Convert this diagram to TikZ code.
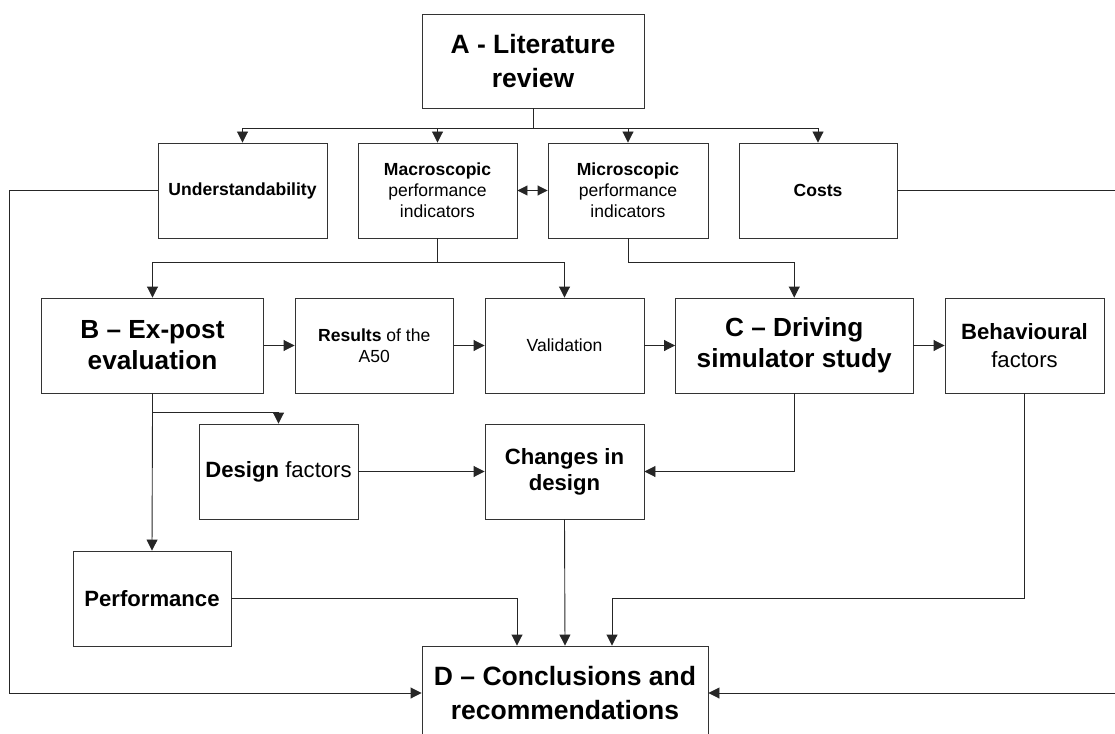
\documentclass[tikz,border=0pt]{standalone}
\usepackage{fontspec}
\setmainfont{Liberation Sans}
\usetikzlibrary{arrows.meta,calc}
\tikzset{
  box/.style={draw=black!80, line width=0.9bp, rectangle, align=center, inner sep=0pt,
              minimum height=95bp, text=black},
  fbig/.style={font=\fontsize{26.3}{31}\selectfont\bfseries},
  fmid/.style={font=\fontsize{22.2}{26}\selectfont},
  fsml/.style={font=\fontsize{17.6}{21.3}\selectfont},
  link/.style={draw=black!85, line width=0.9bp},
  arr/.style={link, -{Triangle[length=11bp,width=11bp]}},
  dblarr/.style={link, {Triangle[length=10bp,width=10bp]}-{Triangle[length=10bp,width=10bp]}}
}
\begin{document}
\begin{tikzpicture}[x=1bp,y=-1bp]
\useasboundingbox (0,0) rectangle (1115,734);
\clip (0,0) rectangle (1115,734);
% boxes
\node[box,minimum width=222bp,minimum height=94bp,font=\fontsize{26.6}{35}\selectfont\bfseries] (A) at (533,61) {A - Literature\\review};
\node[box,fsml,minimum width=169bp] (und) at (242.5,190.5) {\textbf{Understandability}};
\node[box,fsml,minimum width=159bp] (mac) at (437.5,190.5) {\textbf{Macroscopic}\\performance\\indicators};
\node[box,fsml,minimum width=160bp] (mic) at (628,190.5) {\textbf{Microscopic}\\performance\\indicators};
\node[box,fsml,minimum width=158bp] (cost) at (818,190.5) {\textbf{Costs}};
\node[box,fbig,minimum width=222bp] (B) at (152.5,345.5) {B -- Ex-post\\evaluation};
\node[box,fsml,minimum width=158.5bp] (res) at (374.25,345.5) {\textbf{Results} of the\\A50};
\node[box,fsml,minimum width=159bp] (val) at (564.5,345.5) {Validation};
\node[box,fbig,minimum width=237.5bp] (C) at (794.25,345.5) {C -- Driving\\simulator study};
\node[box,minimum width=159bp,font=\fontsize{22.2}{27.5}\selectfont] (beh) at (1024.5,345.5) {\textbf{Behavioural}\\factors};
\node[box,fmid,minimum width=159bp] (des) at (278.5,471.5) {\textbf{Design} factors};
\node[box,fmid,minimum width=159bp] (chg) at (564.5,471.5) {\textbf{Changes in}\\\textbf{design}};
\node[box,fmid,minimum width=158bp] (perf) at (152,598.5) {\textbf{Performance}};
\node[box,minimum width=286bp,minimum height=94bp,font=\fontsize{26.6}{34}\selectfont\bfseries] (D) at (565,693) {D -- Conclusions and\\recommendations};
% junctions
\coordinate (ja) at (533,128);
\coordinate (jm) at (437.5,262);
\coordinate (jb) at (152.5,412);
\coordinate (lft) at (9,190.5);
\coordinate (rgt) at (1118,190.5);
% connectors
\draw[link] (A.south) -- (ja);
\draw[arr] (ja) -| (und.north);
\draw[arr] (ja) -| (mac.north);
\draw[arr] (ja) -| (mic.north);
\draw[arr] (ja) -| (cost.north);
\draw[dblarr] (mac.east) -- (mic.west);
\draw[link] (mac.south) -- (jm);
\draw[arr] (jm) -| (B.north);
\draw[arr] (jm) -| (val.north);
\draw[arr] (mic.south) -- ++(0,23.5) -| (C.north);
\draw[arr] (B.east) -- (res.west);
\draw[arr] (res.east) -- (val.west);
\draw[arr] (val.east) -- (C.west);
\draw[arr] (C.east) -- (beh.west);
\draw[link] (B.south) -- (jb);
\draw[arr] (jb) -| (des.north);
\draw[arr] (jb) -- (perf.north);
\draw[arr] (des.east) -- (chg.west);
\draw[arr] (C.south) |- (chg.east);
\draw[arr] (chg.south) -- (D.north);
\draw[arr] (perf.east) -| ([xshift=-48bp]D.north);
\draw[arr] (beh.south) -- (beh.south |- perf.east) -| ([xshift=47bp]D.north);
\draw[arr] (und.west) -- (lft) |- (D.west);
\draw[arr] (cost.east) -- (rgt) |- (D.east);
\end{tikzpicture}
\end{document}
